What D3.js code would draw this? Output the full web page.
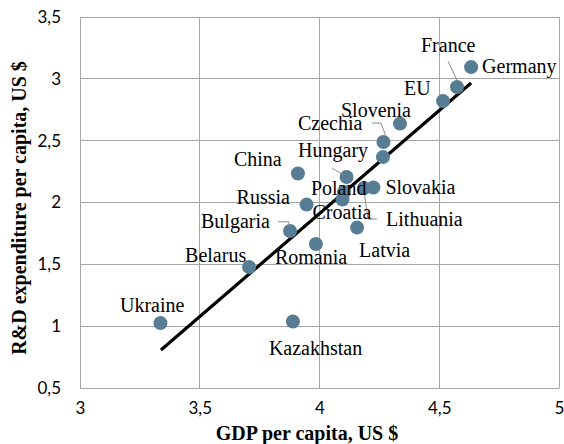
<!DOCTYPE html>
<html>
<head>
<meta charset="utf-8">
<script src="https://cdn.jsdelivr.net/npm/d3@7"></script>
<style>
    body { margin: 0; background: #fff; }
    #chart-container { width: 564px; height: 444px; }
</style>
</head>
<body>
<div id="chart-container"></div>
<script>
// Countries and their values (GDP per capita, R&D per capita)
const countries = ["Germany", "France", "EU", "Slovenia", "Czechia", "", "China", "Hungary",
    "Slovakia", "Lithuania", "Poland", "Croatia", "Russia", "Bulgaria", "Latvia", "Romania",
    "Belarus", "Ukraine", "Kazakhstan"];
const gdpValues = [4.633, 4.574, 4.516, 4.336, 4.267, 4.265, 3.910, 4.113,
    4.225, 4.186, 4.102, 4.096, 3.946, 3.877, 4.157, 3.985,
    3.706, 3.336, 3.889];
const rdValues = [3.095, 2.933, 2.820, 2.638, 2.489, 2.367, 2.234, 2.206,
    2.121, 2.117, 2.084, 2.024, 1.983, 1.769, 1.797, 1.664,
    1.478, 1.025, 1.038];

// Trend line (start and end point)
const trendX = [3.338, 4.633];
const trendY = [0.807, 2.966];

const xTicks = [3, 3.5, 4, 4.5, 5];
const yTicks = [0.5, 1, 1.5, 2, 2.5, 3, 3.5];

// Label placement relative to the point (pixels)
const labelOffsets = {
    Germany: [11, 6], France: [-36, -35], EU: [-39, -6], Slovenia: [-59, -6.5],
    Czechia: [-85.5, -12], China: [-64, -8], Hungary: [-48.5, -20], Slovakia: [12, 6.5],
    Lithuania: [22, 38], Poland: [-33, 3], Croatia: [-30, 19], Russia: [-70, -1],
    Bulgaria: [-89, -3], Latvia: [2, 29.5], Romania: [-41, 20], Belarus: [-64, -5],
    Ukraine: [-40.5, -11], Kazakhstan: [-24, 33.5]
};

// Leader lines, also relative to the point
const leaders = {
    France: [[-9, -26], [0, -7]],
    Czechia: [[-11.5, -19], [-2.5, -19], [2, -7]],
    Hungary: [[-14.5, -9], [-3.5, -2]],
    Lithuania: [[13, 31], [4, 31], [0.5, 7]],
    Bulgaria: [[-12, -9.3], [-1.2, -9.3], [-1, -5]]
};

function renderScatter() {
    const container = document.getElementById("chart-container");
    const width = 564, height = 444;
    const margin = { top: 17, right: 5, bottom: 56, left: 80 };

    const data = countries.map((name, i) => ({ name, gdp: gdpValues[i], rd: rdValues[i] }));

    const svg = d3.select(container)
        .append("svg")
        .attr("width", width)
        .attr("height", height);

    const x = d3.scaleLinear()
        .domain([3, 5])
        .range([margin.left, width - margin.right]);

    const y = d3.scaleLinear()
        .domain([0.5, 3.5])
        .range([height - margin.bottom, margin.top]);

    // Grid
    const grid = svg.append("g")
        .attr("stroke", "#a6a6a6")
        .attr("stroke-width", 1)
        .attr("shape-rendering", "crispEdges");

    grid.selectAll("line.v")
        .data(xTicks)
        .enter()
        .append("line")
        .attr("class", "v")
        .attr("x1", d => x(d)).attr("x2", d => x(d))
        .attr("y1", y(0.5)).attr("y2", y(3.5));

    grid.selectAll("line.h")
        .data(yTicks)
        .enter()
        .append("line")
        .attr("class", "h")
        .attr("x1", x(3)).attr("x2", x(5))
        .attr("y1", d => y(d)).attr("y2", d => y(d));

    // Axes (tick text only)
    const fmt = d => String(d).replace(".", ",");

    const xAxis = g => g
        .attr("transform", `translate(0,${y(0.5)})`)
        .call(d3.axisBottom(x).tickValues(xTicks).tickFormat(fmt).tickSize(0).tickPadding(14))
        .call(g => g.select(".domain").remove())
        .selectAll("text")
        .style("font-family", "Lato, 'Open Sans', sans-serif")
        .style("font-size", "17px")
        .attr("fill", "#000");

    const yAxis = g => g
        .attr("transform", `translate(${x(3)},0)`)
        .call(d3.axisLeft(y).tickValues(yTicks).tickFormat(fmt).tickSize(0).tickPadding(19))
        .call(g => g.select(".domain").remove())
        .selectAll("text")
        .style("font-family", "Lato, 'Open Sans', sans-serif")
        .style("font-size", "17px")
        .attr("fill", "#000");

    svg.append("g").call(xAxis);
    svg.append("g").call(yAxis);

    // Axis titles
    svg.append("text")
        .attr("x", 307)
        .attr("y", 440)
        .attr("text-anchor", "middle")
        .style("font-family", "'Liberation Serif', 'Times New Roman', serif")
        .style("font-size", "20px")
        .style("font-weight", "bold")
        .text("GDP per capita, US $");

    svg.append("text")
        .attr("transform", `translate(26,${208}) rotate(-90)`)
        .attr("text-anchor", "middle")
        .style("font-family", "'Liberation Serif', 'Times New Roman', serif")
        .style("font-size", "20px")
        .style("font-weight", "bold")
        .text("R&D expenditure per capita, US $");

    // Trend line
    svg.append("line")
        .attr("x1", x(trendX[0])).attr("y1", y(trendY[0]))
        .attr("x2", x(trendX[1])).attr("y2", y(trendY[1]))
        .attr("stroke", "#000")
        .attr("stroke-width", 3.2);

    // Points
    svg.append("g")
        .selectAll("circle")
        .data(data)
        .enter()
        .append("circle")
        .attr("cx", d => x(d.gdp))
        .attr("cy", d => y(d.rd))
        .attr("r", 7)
        .attr("fill", "#567d94");

    // Leader lines
    svg.append("g")
        .selectAll("polyline")
        .data(data.filter(d => leaders[d.name]))
        .enter()
        .append("polyline")
        .attr("points", d => leaders[d.name]
            .map(p => `${x(d.gdp) + p[0]},${y(d.rd) + p[1]}`).join(" "))
        .attr("fill", "none")
        .attr("stroke", "#8c8c8c")
        .attr("stroke-width", 1);

    // Labels
    svg.append("g")
        .selectAll("text")
        .data(data.filter(d => labelOffsets[d.name]))
        .enter()
        .append("text")
        .attr("x", d => x(d.gdp) + labelOffsets[d.name][0])
        .attr("y", d => y(d.rd) + labelOffsets[d.name][1])
        .style("font-family", "'Liberation Serif', 'Times New Roman', serif")
        .style("font-size", "20px")
        .attr("fill", "#000")
        .text(d => d.name);
}

renderScatter();
</script>
</body>
</html>
